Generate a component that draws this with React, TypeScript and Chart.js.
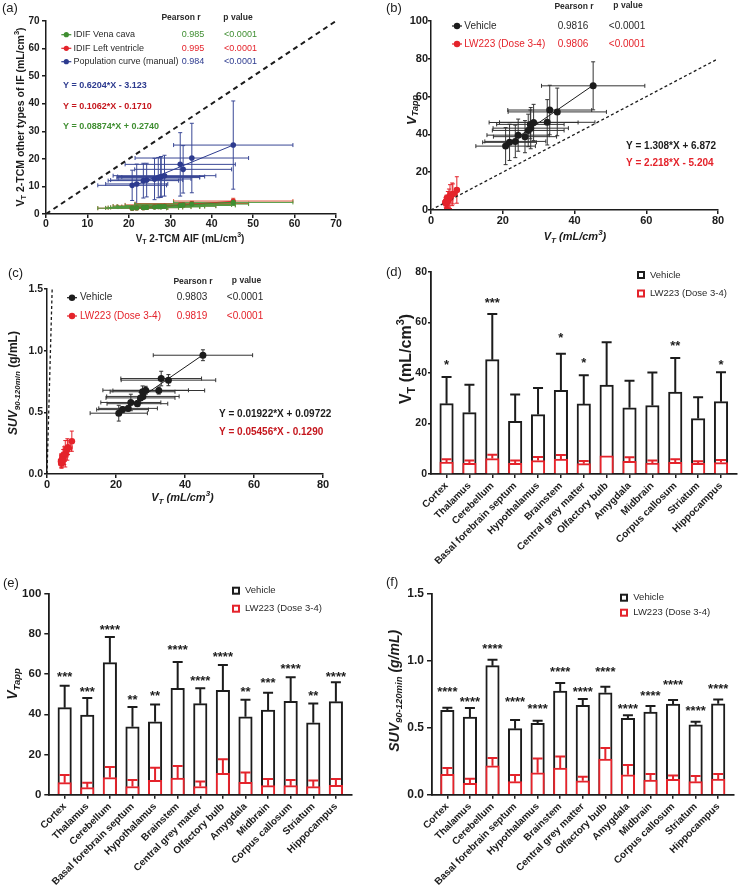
import React, { useEffect, useRef } from 'react';
import { Chart, registerables } from 'chart.js';

Chart.register(...registerables);

const FONT = '"Liberation Sans", Arial, Helvetica, sans-serif';
const W = 740;
const H = 887;

// ---------------- data ----------------
const regions = [
  'Cortex', 'Thalamus', 'Cerebellum', 'Basal forebrain septum', 'Hypothalamus', 'Brainstem',
  'Central grey matter', 'Olfactory bulb', 'Amygdala', 'Midbrain', 'Corpus callosum', 'Striatum', 'Hippocampus',
];

// (d) VT
const vtVehicle = [27.8, 24.3, 45.2, 20.8, 23.5, 33.1, 27.7, 35.2, 26.2, 27.1, 32.4, 21.9, 28.6];
const vtVehicleSD = [10.6, 11.0, 18.1, 10.6, 10.5, 14.5, 11.4, 16.9, 10.7, 13.0, 13.5, 8.5, 11.6];
const vtLW = [4.7, 4.2, 6.1, 4.2, 5.3, 5.9, 4.1, 7.2, 5.0, 4.3, 4.6, 4.2, 4.5];
const vtLWSD = [1.1, 1.1, 1.5, 1.1, 1.4, 1.6, 1.0, 0, 1.6, 1.0, 1.2, 0.8, 1.0];
const sigD = ['*', '', '***', '', '', '*', '*', '', '', '', '**', '', '*'];
const sigLevelD = [44.4, 0, 68.8, 0, 0, 55.0, 45.4, 0, 0, 0, 51.9, 0, 44.4];

// (e) VTapp
const vtappVehicle = [43.3, 39.6, 65.7, 33.8, 36.3, 52.9, 45.3, 51.9, 38.8, 42.1, 46.4, 35.8, 46.3];
const vtappVehicleSD = [10.9, 8.5, 12.7, 9.8, 8.6, 13.1, 7.6, 12.6, 8.5, 8.6, 12.0, 9.6, 9.6];
const vtappLW = [6.0, 3.5, 8.5, 4.1, 7.1, 8.3, 4.1, 10.6, 6.1, 4.5, 4.5, 4.0, 4.6];
const vtappLWSD = [3.8, 2.5, 5.3, 3.2, 6.3, 6.0, 2.5, 7.0, 5.0, 3.3, 2.8, 3.1, 3.2];
const sigE = ['***', '***', '****', '**', '**', '****', '****', '****', '**', '***', '****', '**', '****'];
const sigLevelE = [60.4, 52.9, 83.6, 48.8, 50.9, 73.6, 58.4, 70.3, 52.9, 57.4, 64.0, 50.9, 60.4];

// (f) SUV 90-120 min
const suvVehicle = [0.629, 0.580, 0.963, 0.493, 0.532, 0.774, 0.667, 0.761, 0.570, 0.617, 0.677, 0.522, 0.679];
const suvVehicleSD = [0.020, 0.067, 0.044, 0.064, 0.020, 0.059, 0.047, 0.045, 0.022, 0.045, 0.029, 0.023, 0.032];
const suvLW = [0.152, 0.085, 0.216, 0.097, 0.164, 0.199, 0.104, 0.266, 0.149, 0.109, 0.114, 0.097, 0.117];
const suvLWSD = [0.047, 0.034, 0.058, 0.050, 0.107, 0.087, 0.030, 0.082, 0.072, 0.045, 0.030, 0.042, 0.037];
const sigF = ['****', '****', '****', '****', '****', '****', '****', '****', '****', '****', '****', '****', '****'];
const sigLevelF = [0.794, 0.714, 1.110, 0.714, 0.664, 0.940, 0.794, 0.940, 0.664, 0.761, 0.843, 0.649, 0.811];

// scatter x errors (VT 2-TCM AIF)
const vtScatterSD = [10.5, 8.7, 14.4, 8.3, 8.5, 11.7, 9.4, 13.7, 8.8, 10.0, 13.3, 7.5, 12.4];
const vtLWScatterSD = [1.0, 0.8, 1.2, 0.8, 1.0, 1.2, 0.8, 0.5, 1.1, 0.8, 1.0, 0.7, 0.8];

// (a) other input functions
const popCurve = [13.6, 12.3, 25.0, 10.4, 12.1, 16.2, 13.4, 20.3, 12.7, 13.2, 18.0, 10.9, 13.9];
const popCurveSD = [7.2, 6.1, 16.0, 5.5, 6.3, 8.6, 7.4, 12.6, 7.5, 7.3, 11.5, 7.2, 7.4];
const idifVena = [2.7, 2.4, 4.2, 2.1, 2.3, 3.3, 2.6, 3.6, 2.5, 2.7, 3.1, 2.2, 2.8];
const idifVenaSD = [0.6, 0.5, 0.9, 0.5, 0.5, 0.7, 0.6, 0.8, 0.5, 0.6, 0.7, 0.5, 0.6];
const idifLV = [2.8, 2.4, 4.7, 2.1, 2.3, 3.4, 2.7, 3.8, 2.6, 2.7, 3.3, 2.2, 2.9];
const idifLVSD = [0.6, 0.5, 1.0, 0.5, 0.5, 0.7, 0.6, 0.8, 0.6, 0.6, 0.7, 0.5, 0.6];

// regression / identity lines (end points)
const fitAPop = [{ x: 20.7, y: 9.9 }, { x: 45.2, y: 25.0 }];
const fitALV = [{ x: 20.8, y: 2.0 }, { x: 45.2, y: 4.6 }];
const fitAVena = [{ x: 20.8, y: 2.1 }, { x: 45.2, y: 4.3 }];
const identityA = [{ x: 0, y: 0 }, { x: 70, y: 70 }];
const fitBVeh = [{ x: 20.8, y: 34.1 }, { x: 45.2, y: 66.0 }];
const fitBLW = [{ x: 4.1, y: 3.9 }, { x: 7.2, y: 10.8 }];
const identityB = [{ x: 0, y: 0 }, { x: 80, y: 80 }];
const fitCVeh = [{ x: 20.8, y: 0.497 }, { x: 45.2, y: 0.966 }];
const fitCLW = [{ x: 4.1, y: 0.095 }, { x: 7.2, y: 0.264 }];
const identityC = [{ x: 0, y: 0 }, { x: 1.5, y: 1.5 }];

// texts
const legendA = ['IDIF Vena cava', 'IDIF Left ventricle', 'Population curve (manual)'];
const pearsonA = ['0.985', '0.995', '0.984'];
const pvalA = ['<0.0001', '<0.0001', '<0.0001'];
const eqA = ['Y = 0.6204*X - 3.123', 'Y = 0.1062*X - 0.1710', 'Y = 0.08874*X + 0.2740'];
const groups = ['Vehicle', 'LW223 (Dose 3-4)'];
const pearsonB = ['0.9816', '0.9806'];
const pearsonC = ['0.9803', '0.9819'];
const pvalBC = ['<0.0001', '<0.0001'];
const eqB = ['Y = 1.308*X + 6.872', 'Y = 2.218*X - 5.204'];
const eqC = ['Y = 0.01922*X + 0.09722', 'Y = 0.05456*X - 0.1290'];

// ---------------- styles ----------------
const INK = '#1c1c1c';
const TXT = '#2a2a2a';
const RED = '#e4232b';
const DARKRED = '#c5161d';
const NAVY = '#2d3b8f';
const GREEN = '#3f8e31';

type Box = { l: number; t: number; r: number; b: number };
type Seg = { t: string; s?: 'sub' | 'sup'; it?: boolean };

function layoutFor(box: Box, yw: number, xh: number) {
  return { padding: { left: box.l - yw, top: box.t, right: W - box.r, bottom: H - box.b - xh } };
}

function txt(ctx: any, s: string, x: number, y: number, size: number, color: string,
  align: CanvasTextAlign = 'left', bold = false, italic = false) {
  ctx.save();
  ctx.font = `${italic ? 'italic ' : ''}${bold ? 'bold ' : ''}${size}px ${FONT}`;
  ctx.fillStyle = color;
  ctx.textAlign = align;
  ctx.textBaseline = 'middle';
  ctx.fillText(s, x, y);
  ctx.restore();
}

function rich(ctx: any, segs: Seg[], x: number, y: number, size: number, subSize: number,
  rot: boolean, italic = false, color = INK) {
  ctx.save();
  ctx.translate(x, y);
  if (rot) ctx.rotate(-Math.PI / 2);
  ctx.textBaseline = 'middle';
  ctx.textAlign = 'left';
  ctx.fillStyle = color;
  const fontOf = (g: Seg) => `${(g.it ?? italic) ? 'italic ' : ''}bold ${g.s ? subSize : size}px ${FONT}`;
  let total = 0;
  const widths = segs.map((g) => { ctx.font = fontOf(g); const w = ctx.measureText(g.t).width; total += w; return w; });
  let cx = -total / 2;
  segs.forEach((g, i) => {
    ctx.font = fontOf(g);
    const dy = g.s === 'sub' ? size * 0.3 : g.s === 'sup' ? -size * 0.38 : 0;
    ctx.fillText(g.t, cx, dy);
    cx += widths[i];
  });
  ctx.restore();
}

function marker(ctx: any, x: number, y: number, color: string, r: number, half: number) {
  ctx.save();
  ctx.strokeStyle = color;
  ctx.fillStyle = color;
  ctx.lineWidth = 1.2;
  ctx.beginPath(); ctx.moveTo(x - half, y); ctx.lineTo(x + half, y); ctx.stroke();
  ctx.beginPath(); ctx.arc(x, y, r, 0, Math.PI * 2); ctx.fill();
  ctx.restore();
}

function boxMark(ctx: any, x: number, y: number, color: string) {
  ctx.save();
  ctx.fillStyle = '#fff';
  ctx.fillRect(x, y - 4, 8, 8);
  ctx.strokeStyle = color;
  ctx.lineWidth = 2;
  ctx.strokeRect(x + 1, y - 3, 6, 6);
  ctx.restore();
}

// ---------------- plugins ----------------
function drawErrors(chart: any, kind: string) {
  const ctx = chart.ctx;
  const xs = chart.scales.x;
  const ys = chart.scales.y;
  const dsets = chart.data.datasets;
  for (let d = dsets.length - 1; d >= 0; d--) {
    const ds: any = dsets[d];
    const e = ds.err;
    if (!e || e.kind !== kind) continue;
    ctx.save();
    ctx.strokeStyle = e.color;
    ctx.lineWidth = e.width;
    ds.data.forEach((p: any, i: number) => {
      const px = xs.getPixelForValue(p.x);
      const py = ys.getPixelForValue(p.y);
      ctx.beginPath();
      if (kind === 'up') {
        if (e.ye[i] > 0) {
          const top = ys.getPixelForValue(p.y + e.ye[i]);
          ctx.moveTo(px, py); ctx.lineTo(px, top);
          ctx.moveTo(px - e.cap, top); ctx.lineTo(px + e.cap, top);
        }
      } else {
        if (e.xe) {
          const l = xs.getPixelForValue(p.x - e.xe[i]);
          const r = xs.getPixelForValue(p.x + e.xe[i]);
          ctx.moveTo(l, py); ctx.lineTo(r, py);
          ctx.moveTo(l, py - e.cap); ctx.lineTo(l, py + e.cap);
          ctx.moveTo(r, py - e.cap); ctx.lineTo(r, py + e.cap);
        }
        if (e.ye) {
          const t = ys.getPixelForValue(p.y + e.ye[i]);
          const b = ys.getPixelForValue(p.y - e.ye[i]);
          ctx.moveTo(px, t); ctx.lineTo(px, b);
          ctx.moveTo(px - e.cap, t); ctx.lineTo(px + e.cap, t);
          ctx.moveTo(px - e.cap, b); ctx.lineTo(px + e.cap, b);
        }
      }
      ctx.stroke();
    });
    ctx.restore();
  }
}

const errPlugin = {
  id: 'errbars',
  beforeDatasetsDraw(chart: any) { drawErrors(chart, 'xy'); },
  afterDatasetsDraw(chart: any) { drawErrors(chart, 'up'); },
};

function overlay(fn: (ctx: any, chart: any) => void) {
  return { id: 'overlay', afterDraw(chart: any) { fn(chart.ctx, chart); } };
}

// ---------------- axes ----------------
function linAxis(min: number, max: number, step: number, o: any) {
  return {
    type: 'linear',
    min, max,
    offset: false,
    ticks: {
      stepSize: step,
      color: INK,
      padding: o.pad ?? 1,
      font: { family: FONT, size: o.size ?? 11, weight: 'bold' },
      callback: o.fmt ?? ((v: any) => String(v)),
    },
    grid: { display: true, offset: false, drawOnChartArea: false, drawTicks: true, tickLength: o.tl ?? 4, color: INK, lineWidth: 1.5 },
    border: { display: true, color: INK, width: o.bw ?? 1.5 },
    afterFit: o.fit,
  };
}

function baseOptions(box: Box, yw: number, xh: number, x: any, y: any) {
  return {
    responsive: false,
    animation: false,
    devicePixelRatio: 1,
    events: [],
    layout: layoutFor(box, yw, xh),
    plugins: { legend: { display: false }, tooltip: { enabled: false } },
    scales: { x, y },
  };
}

function pts(xs: number[], ys: number[], xe: number[], ye: number[], color: string, errColor: string, r: number) {
  return {
    data: xs.map((x, i) => ({ x, y: ys[i] })),
    backgroundColor: color,
    borderColor: color,
    pointRadius: r,
    pointHoverRadius: r,
    pointBorderWidth: 0,
    showLine: false,
    err: { kind: 'xy', xe, ye, color: errColor, width: 1, cap: 2 },
  };
}

function line(data: any[], color: string, width: number, dash: number[] = []) {
  return {
    data,
    borderColor: color,
    backgroundColor: color,
    borderWidth: width,
    borderDash: dash,
    pointRadius: 0,
    showLine: true,
    fill: false,
  };
}

// ---------------- panels ----------------
function makeA() {
  const box = { l: 46, t: 21, r: 336, b: 214 };
  const YW = 40, XH = 30;
  return {
    type: 'scatter',
    data: {
      datasets: [
        pts(vtVehicle, idifVena, vtScatterSD, idifVenaSD, GREEN, '#4f9a40', 2.6),
        pts(vtVehicle, idifLV, vtScatterSD, idifLVSD, RED, '#e0553a', 2.6),
        pts(vtVehicle, popCurve, vtScatterSD, popCurveSD, NAVY, '#3a4896', 2.8),
        line(fitAVena, GREEN, 1),
        line(fitALV, RED, 1),
        line(fitAPop, NAVY, 1),
        line(identityA, INK, 2, [5, 4]),
      ],
    },
    options: baseOptions(box, YW, XH,
      linAxis(0, 70, 10, { size: 10.5, pad: 0, fit: (s: any) => { s.height = XH; } }),
      linAxis(0, 70, 10, { size: 10, pad: 2.5, fit: (s: any) => { s.width = YW; } })),
    plugins: [errPlugin, overlay((ctx) => {
      txt(ctx, '(a)', 2, 8, 13, INK);
      txt(ctx, 'Pearson r', 181, 18, 8.5, TXT, 'center', true);
      txt(ctx, 'p value', 238, 18, 8.5, TXT, 'center', true);
      const cols = [GREEN, RED, NAVY];
      const ys = [34.7, 48.3, 61.7];
      legendA.forEach((name, i) => {
        marker(ctx, 66.3, ys[i], cols[i], 2.6, 5);
        txt(ctx, name, 73.5, ys[i], 9, TXT);
        txt(ctx, pearsonA[i], 193, ys[i], 9, cols[i], 'center');
        txt(ctx, pvalA[i], 240.5, ys[i], 9, cols[i], 'center');
      });
      const ecol = [NAVY, DARKRED, GREEN];
      const ey = [86, 107, 127];
      eqA.forEach((e, i) => txt(ctx, e, 63, ey[i], 9, ecol[i], 'left', true));
      rich(ctx, [{ t: 'V' }, { t: 'T', s: 'sub' }, { t: ' 2-TCM other types of IF (mL/cm' }, { t: '3', s: 'sup' }, { t: ')' }],
        21, 117, 10.5, 7.5, true);
      rich(ctx, [{ t: 'V' }, { t: 'T', s: 'sub' }, { t: ' 2-TCM AIF (mL/cm' }, { t: '3', s: 'sup' }, { t: ')' }],
        190, 239, 10, 7, false);
    })],
  };
}

function makeB() {
  const box = { l: 431, t: 21, r: 718, b: 210 };
  const YW = 40, XH = 30;
  return {
    type: 'scatter',
    data: {
      datasets: [
        pts(vtLW, vtappLW, vtLWScatterSD, vtappLWSD, RED, RED, 3.3),
        pts(vtVehicle, vtappVehicle, vtScatterSD, vtappVehicleSD, INK, '#333', 3.5),
        line(fitBLW, RED, 1),
        line(fitBVeh, INK, 1),
        line(identityB, INK, 1.3, [3, 2.5]),
      ],
    },
    options: baseOptions(box, YW, XH,
      linAxis(0, 80, 20, { size: 11, pad: 0, fit: (s: any) => { s.height = XH; } }),
      linAxis(0, 100, 20, { size: 11, pad: 0, tl: 3, fit: (s: any) => { s.width = YW; } })),
    plugins: [errPlugin, overlay((ctx) => {
      txt(ctx, '(b)', 386, 8, 13, INK);
      txt(ctx, 'Pearson r', 574, 6.5, 8.5, TXT, 'center', true);
      txt(ctx, 'p value', 628, 6, 8.5, TXT, 'center', true);
      const cols = [INK, RED];
      const ys = [26, 44];
      groups.forEach((g, i) => {
        marker(ctx, 457, ys[i], cols[i], 3.2, 5);
        txt(ctx, g, 464.3, ys[i], 10, i === 0 ? TXT : RED);
        txt(ctx, pearsonB[i], 573, ys[i], 10, i === 0 ? TXT : RED, 'center');
        txt(ctx, pvalBC[i], 627, ys[i], 10, i === 0 ? TXT : RED, 'center');
      });
      txt(ctx, eqB[0], 626, 146, 10, INK, 'left', true);
      txt(ctx, eqB[1], 626, 163, 10, RED, 'left', true);
      rich(ctx, [{ t: 'V' }, { t: 'T', s: 'sub' }, { t: ' (mL/cm' }, { t: '3', s: 'sup' }, { t: ')' }],
        575, 237, 11, 8, false, true);
      rich(ctx, [{ t: 'V' }, { t: 'Tapp', s: 'sub' }], 412, 110, 13, 9, true, true);
    })],
  };
}

function makeC() {
  const box = { l: 47, t: 289, r: 323, b: 474 };
  const YW = 40, XH = 30;
  return {
    type: 'scatter',
    data: {
      datasets: [
        pts(vtLW, suvLW, vtLWScatterSD, suvLWSD, RED, RED, 3.3),
        pts(vtVehicle, suvVehicle, vtScatterSD, suvVehicleSD, INK, '#333', 3.5),
        line(fitCLW, RED, 1),
        line(fitCVeh, INK, 1),
        line(identityC, INK, 1.3, [3, 2.5]),
      ],
    },
    options: baseOptions(box, YW, XH,
      linAxis(0, 80, 20, { size: 11, pad: 0, fit: (s: any) => { s.height = XH; } }),
      linAxis(0, 1.5, 0.5, { size: 10.5, pad: 1, tl: 3, fmt: (v: any) => Number(v).toFixed(1), fit: (s: any) => { s.width = YW; } })),
    plugins: [errPlugin, overlay((ctx) => {
      txt(ctx, '(c)', 8, 273, 13, INK);
      txt(ctx, 'Pearson r', 193, 281.7, 8.5, TXT, 'center', true);
      txt(ctx, 'p value', 246.5, 280.7, 8.5, TXT, 'center', true);
      const cols = [INK, RED];
      const ys = [297.7, 316];
      groups.forEach((g, i) => {
        marker(ctx, 72, ys[i], cols[i], 3.2, 5);
        txt(ctx, g, 80, ys[i], 10, i === 0 ? TXT : RED);
        txt(ctx, pearsonC[i], 192, ys[i], 10, i === 0 ? TXT : RED, 'center');
        txt(ctx, pvalBC[i], 245, ys[i], 10, i === 0 ? TXT : RED, 'center');
      });
      txt(ctx, eqC[0], 219, 414, 10, INK, 'left', true);
      txt(ctx, eqC[1], 219, 432.7, 10, DARKRED, 'left', true);
      rich(ctx, [{ t: 'V' }, { t: 'T', s: 'sub' }, { t: ' (mL/cm' }, { t: '3', s: 'sup' }, { t: ')' }],
        182.5, 498.3, 11, 8, false, true);
      rich(ctx, [{ t: 'SUV', it: true }, { t: '90-120min', s: 'sub', it: true }, { t: ' (g/mL)', it: false }],
        14, 383, 12, 8, true);
    })],
  };
}

type BarCfg = {
  box: Box; ymax: number; ystep: number; ysize: number; ypad: number; ytl: number; fmt?: (v: any) => string;
  veh: number[]; vehSD: number[]; lw: number[]; lwSD: number[]; sig: string[]; sigLevel: number[];
  label: string; labelPos: [number, number]; legend: [number, number, number, number];
  title: (ctx: any) => void; xh: number;
};

function makeBar(c: BarCfg) {
  const YW = 40;
  return () => ({
    type: 'bar',
    data: {
      datasets: [
        {
          label: groups[0],
          data: regions.map((_, i) => ({ x: i, y: c.veh[i] })),
          backgroundColor: '#ffffff',
          borderColor: INK,
          borderWidth: 2,
          barThickness: 13.5,
          grouped: false,
          order: 2,
          err: { kind: 'up', ye: c.vehSD, color: INK, width: 2, cap: 5 },
        },
        {
          label: groups[1],
          data: regions.map((_, i) => ({ x: i, y: c.lw[i] })),
          backgroundColor: '#ffffff',
          borderColor: RED,
          borderWidth: 2,
          barThickness: 13.5,
          grouped: false,
          order: 1,
          err: { kind: 'up', ye: c.lwSD, color: RED, width: 2, cap: 5 },
        },
      ],
    },
    options: baseOptions(c.box, YW, c.xh,
      {
        type: 'linear',
        min: -0.68,
        max: 12.7,
        offset: false,
        afterBuildTicks: (s: any) => { s.ticks = regions.map((_, i) => ({ value: i })); },
        ticks: {
          autoSkip: false,
          maxRotation: 45,
          minRotation: 45,
          padding: 2,
          color: INK,
          font: { family: FONT, size: 10, weight: 'bold' },
          callback: (v: any) => regions[Math.round(Number(v))] ?? '',
        },
        grid: { display: true, offset: false, drawOnChartArea: false, drawTicks: true, tickLength: 4, color: INK, lineWidth: 1.5 },
        border: { display: true, color: INK, width: 1.8 },
        afterFit: (s: any) => { s.height = c.xh; },
      },
      linAxis(0, c.ymax, c.ystep, { size: c.ysize, pad: c.ypad, tl: c.ytl, bw: 1.8, fmt: c.fmt, fit: (s: any) => { s.width = YW; } })),
    plugins: [errPlugin, overlay((ctx, chart) => {
      txt(ctx, c.label, c.labelPos[0], c.labelPos[1], 13, INK);
      const [bx, tx, y1, y2] = c.legend;
      boxMark(ctx, bx, y1, INK);
      txt(ctx, groups[0], tx, y1, 9.5, TXT);
      boxMark(ctx, bx, y2, RED);
      txt(ctx, groups[1], tx, y2, 9.5, TXT);
      c.title(ctx);
      const xs = chart.scales.x;
      const ys = chart.scales.y;
      const size = 13;
      c.sig.forEach((s, i) => {
        if (!s) return;
        const cy = ys.getPixelForValue(c.sigLevel[i]);
        ctx.save();
        ctx.font = `bold ${size}px ${FONT}`;
        ctx.fillStyle = INK;
        ctx.textAlign = 'center';
        ctx.textBaseline = 'alphabetic';
        ctx.fillText(s, xs.getPixelForValue(i), cy + size * 0.57);
        ctx.restore();
      });
    })],
  });
}

const makeD = makeBar({
  box: { l: 431, t: 271.7, r: 737, b: 474 }, ymax: 80, ystep: 20, ysize: 10.5, ypad: 1, ytl: 3,
  veh: vtVehicle, vehSD: vtVehicleSD, lw: vtLW, lwSD: vtLWSD, sig: sigD, sigLevel: sigLevelD,
  label: '(d)', labelPos: [386, 272], legend: [637, 650, 275, 293.5], xh: 90,
  title: (ctx) => rich(ctx, [{ t: 'V' }, { t: 'T', s: 'sub' }, { t: ' (mL/cm' }, { t: '3', s: 'sup' }, { t: ')' }],
    406.7, 359, 16, 11, true),
});

const makeE = makeBar({
  box: { l: 49.3, t: 593.7, r: 351.7, b: 794.7 }, ymax: 100, ystep: 20, ysize: 11.5, ypad: 3, ytl: 5,
  veh: vtappVehicle, vehSD: vtappVehicleSD, lw: vtappLW, lwSD: vtappLWSD, sig: sigE, sigLevel: sigLevelE,
  label: '(e)', labelPos: [3, 583], legend: [232, 245, 590.7, 608.7], xh: 92,
  title: (ctx) => rich(ctx, [{ t: 'V' }, { t: 'Tapp', s: 'sub' }], 12.7, 684, 14, 9.5, true, true),
});

const makeF = makeBar({
  box: { l: 432, t: 593.7, r: 734, b: 794.7 }, ymax: 1.5, ystep: 0.5, ysize: 12, ypad: 3, ytl: 5,
  fmt: (v: any) => Number(v).toFixed(1),
  veh: suvVehicle, vehSD: suvVehicleSD, lw: suvLW, lwSD: suvLWSD, sig: sigF, sigLevel: sigLevelF,
  label: '(f)', labelPos: [386, 582], legend: [620, 633.3, 597.7, 612.7], xh: 92,
  title: (ctx) => rich(ctx, [{ t: 'SUV' }, { t: '90-120min', s: 'sub' }, { t: ' (g/mL)' }],
    395, 690.8, 14, 9.5, true, true),
});

const makers = [makeA, makeB, makeC, makeD, makeE, makeF];

function Panel({ make }: { make: () => any }) {
  const ref = useRef<HTMLCanvasElement>(null);
  useEffect(() => {
    const chart = new Chart(ref.current as HTMLCanvasElement, make());
    return () => chart.destroy();
  }, [make]);
  return (
    <canvas
      ref={ref}
      width={W}
      height={H}
      style={{ position: 'absolute', left: 0, top: 0, width: W, height: H }}
    />
  );
}

export default function App() {
  return (
    <div style={{ position: 'absolute', left: 0, top: 0, width: W, height: H, background: '#ffffff', overflow: 'hidden' }}>
      {makers.map((m, i) => <Panel key={i} make={m} />)}
    </div>
  );
}
